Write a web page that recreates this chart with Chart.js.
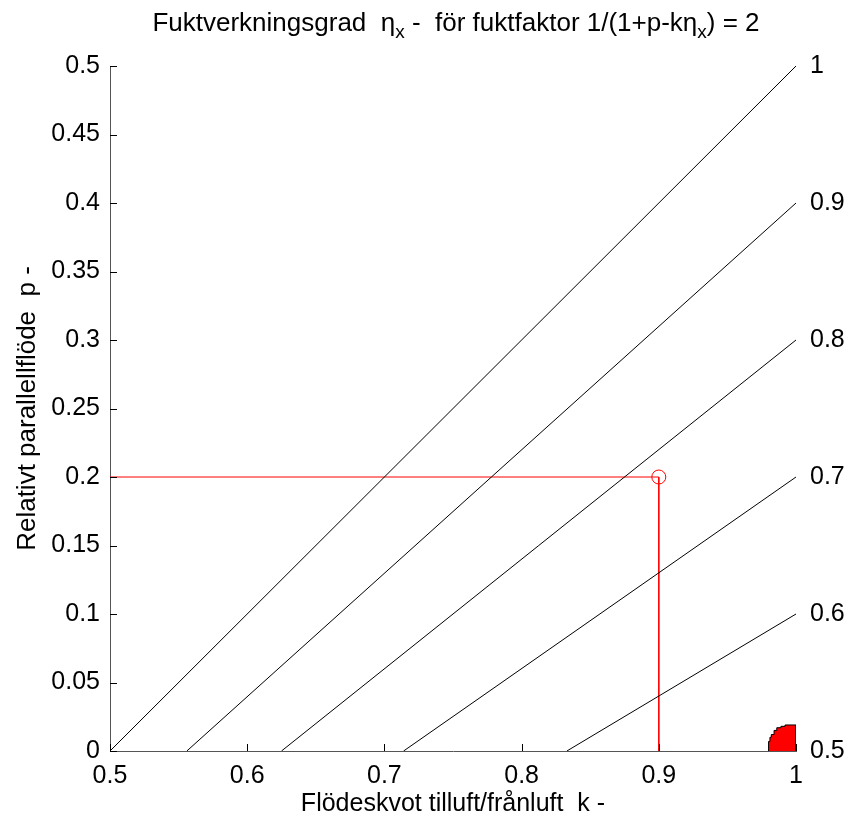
<!DOCTYPE html>
<html>
<head>
<meta charset="utf-8">
<script src="https://cdn.jsdelivr.net/npm/chart.js@4"></script>
<style>
  html, body { margin: 0; padding: 0; background: #fff; }
  #wrap { width: 849px; height: 821px; }
</style>
</head>
<body>
<div id="wrap"><canvas id="chart" width="849" height="821"></canvas></div>
<script>
// contour lines of eta_x as [k, p] end points
const contourLevels = ["1", "0.9", "0.8", "0.7", "0.6", "0.5"];
const contourLabelAt = [0.5, 0.4, 0.3, 0.2, 0.1, 0];
const line10 = [[0.5, 0], [1, 0.5]];
const line09 = [[0.556, 0], [1, 0.4]];
const line08 = [[0.625, 0], [1, 0.3]];
const line07 = [[0.714, 0], [1, 0.2]];
const line06 = [[0.833, 0], [1, 0.1]];

// the red marker and its guide lines
const markerPoint = [0.9, 0.2];
const guideH = [[0.5, 0.2], [0.9, 0.2]];
const guideV = [[0.9, 0.2], [0.9, 0]];

// red blob in the corner (stair stepped edge)
const redBlob = [[0.98, 0], [0.98, 0.007], [0.981, 0.007], [0.981, 0.01], [0.982, 0.01],
  [0.982, 0.012], [0.984, 0.012], [0.984, 0.015], [0.986, 0.015], [0.986, 0.017],
  [0.989, 0.017], [0.989, 0.018], [0.992, 0.018], [0.992, 0.019], [1, 0.019], [1, 0]];

const xTicks = [0.5, 0.6, 0.7, 0.8, 0.9, 1];
const yTicks = [0, 0.05, 0.1, 0.15, 0.2, 0.25, 0.3, 0.35, 0.4, 0.45, 0.5];

const titleParts = [
  ["Fuktverkningsgrad  ", false], ["η", false], ["x", true],
  [" -  för fuktfaktor 1/(1+p-k", false], ["η", false], ["x", true], [") = 2", false]
];

const FONT = "'Liberation Sans', Arial, sans-serif";
const toPts = (arr) => arr.map(([x, y]) => ({ x, y }));
const fmt = (v) => String(+Number(v).toFixed(2));

const blackLine = (pts) => ({
  data: toPts(pts),
  showLine: true,
  borderColor: "#000",
  borderWidth: 1,
  pointRadius: 0,
  fill: false,
});

const data = {
  datasets: [
    blackLine(line10),
    blackLine(line09),
    blackLine(line08),
    blackLine(line07),
    blackLine(line06),
    {
      data: toPts(guideH),
      showLine: true,
      borderColor: "#ff0000",
      borderWidth: 1,
      pointRadius: 0,
    },
    {
      data: toPts(guideV),
      showLine: true,
      borderColor: "#ff0000",
      borderWidth: 1,
      pointRadius: 0,
    },
    {
      data: [{ x: markerPoint[0], y: markerPoint[1] }],
      borderColor: "#ff0000",
      backgroundColor: "rgba(0,0,0,0)",
      borderWidth: 1,
      pointRadius: 7,
      pointStyle: "circle",
    },
    {
      data: toPts(redBlob),
      showLine: true,
      borderColor: "#000",
      borderWidth: 1,
      backgroundColor: "#ff0000",
      pointRadius: 0,
      fill: "origin",
    },
  ],
};

// title with subscripts, and inward ticks like the original
const extras = {
  id: "extras",
  afterDraw(chart) {
    const ctx = chart.ctx;
    const { x, y } = chart.scales;
    ctx.save();

    ctx.strokeStyle = "#000";
    ctx.lineWidth = 1;
    ctx.beginPath();
    xTicks.forEach((v) => {
      const px = Math.round(x.getPixelForValue(v)) + 0.5;
      ctx.moveTo(px, y.bottom);
      ctx.lineTo(px, y.bottom - 7);
    });
    yTicks.forEach((v) => {
      const py = Math.round(y.getPixelForValue(v)) + 0.5;
      ctx.moveTo(x.left, py);
      ctx.lineTo(x.left + 7, py);
    });
    ctx.stroke();

    const big = "26px " + FONT;
    const small = "19px " + FONT;
    let total = 0;
    titleParts.forEach(([t, sub]) => {
      ctx.font = sub ? small : big;
      total += ctx.measureText(t).width;
    });
    let cx = (x.left + x.right) / 2 - total / 2 + 3;
    ctx.fillStyle = "#000";
    ctx.textBaseline = "alphabetic";
    titleParts.forEach(([t, sub]) => {
      ctx.font = sub ? small : big;
      ctx.fillText(t, cx, sub ? 38 : 31);
      cx += ctx.measureText(t).width;
    });
    ctx.restore();
  },
};

const options = {
  responsive: false,
  animation: false,
  layout: { padding: { top: 66 } },
  plugins: {
    legend: { display: false },
    tooltip: { enabled: false },
  },
  scales: {
    x: {
      type: "linear",
      min: 0.5,
      max: 1,
      afterFit: (s) => { s.height = 70; },
      afterBuildTicks: (s) => { s.ticks = xTicks.map((v) => ({ value: v })); },
      grid: { display: false },
      border: { color: "#555", width: 1 },
      ticks: {
        color: "#000",
        font: { family: FONT, size: 25 },
        padding: 2,
        callback: fmt,
      },
      title: {
        display: true,
        text: "Flödeskvot tilluft/frånluft  k -",
        color: "#000",
        font: { family: FONT, size: 25 },
        padding: { top: 0, bottom: 2 },
      },
    },
    y: {
      type: "linear",
      min: 0,
      max: 0.5,
      afterFit: (s) => { s.width = 110; },
      afterBuildTicks: (s) => { s.ticks = yTicks.map((v) => ({ value: v })); },
      grid: { display: false },
      border: { color: "#555", width: 1 },
      ticks: {
        color: "#000",
        font: { family: FONT, size: 25 },
        padding: 2,
        callback: fmt,
      },
      title: {
        display: true,
        text: "Relativt parallellflöde  p -",
        color: "#000",
        font: { family: FONT, size: 26 },
        padding: { top: 12, bottom: 0 },
      },
    },
    y2: {
      type: "linear",
      position: "right",
      min: 0,
      max: 0.5,
      afterFit: (s) => { s.width = 53; },
      afterBuildTicks: (s) => { s.ticks = contourLabelAt.map((v) => ({ value: v })); },
      grid: { display: false },
      border: { display: false },
      ticks: {
        color: "#000",
        font: { family: FONT, size: 25 },
        padding: 6,
        callback: (v) => {
          const i = contourLabelAt.indexOf(v);
          return i >= 0 ? contourLevels[i] : "";
        },
      },
    },
  },
};

new Chart(document.getElementById("chart"), {
  type: "scatter",
  data: data,
  options: options,
  plugins: [extras],
});
</script>
</body>
</html>
